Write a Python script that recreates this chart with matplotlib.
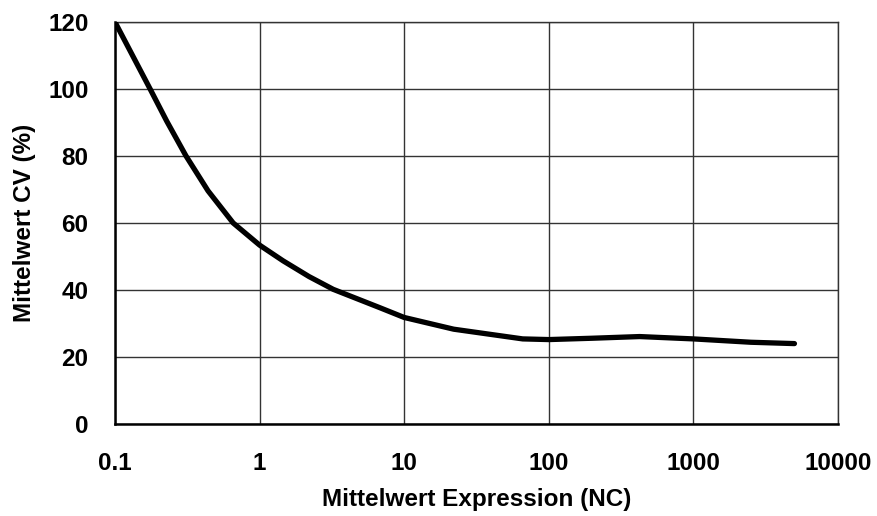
import numpy as np
import matplotlib
matplotlib.use("Agg")
import matplotlib.pyplot as plt
from matplotlib.ticker import FixedLocator, FixedFormatter, NullLocator

plt.rcParams['font.family'] = ['Liberation Sans', 'DejaVu Sans']
plt.rcParams['font.weight'] = 'bold'

# Werte
expression = [0.1, 0.175, 0.228, 0.31, 0.44, 0.657, 1, 1.455, 2.2, 3.23, 6.8, 10,
              22, 66, 100, 200, 425, 1000, 2500, 5000]
cv = [120, 100, 90.4, 80, 69.6, 60, 53.4, 48.7, 44, 40.2, 34.7, 31.8,
      28.3, 25.4, 25.2, 25.6, 26.1, 25.4, 24.4, 24.0]

x_ticks = [0.1, 1, 10, 100, 1000, 10000]
x_tick_labels = ["0.1", "1", "10", "100", "1000", "10000"]
y_ticks = [0, 20, 40, 60, 80, 100, 120]

fig = plt.figure(figsize=(8.77, 5.16), dpi=100)
ax = fig.add_axes([0.1311, 0.1783, 0.8244, 0.7791])

ax.plot(expression, cv, color="black", lw=3.8, solid_capstyle="round", solid_joinstyle="round", zorder=3)

ax.set_xscale("log")
ax.set_xlim(0.1, 10000)
ax.set_ylim(0, 120)
ax.xaxis.set_major_locator(FixedLocator(x_ticks))
ax.xaxis.set_major_formatter(FixedFormatter(x_tick_labels))
ax.xaxis.set_minor_locator(NullLocator())
ax.set_yticks(y_ticks)

ax.grid(True, color="#333333", lw=1.0)
ax.set_axisbelow(True)
for side in ["top", "right"]:
    ax.spines[side].set_color("#333333")
    ax.spines[side].set_linewidth(1.0)
for side in ["left", "bottom"]:
    ax.spines[side].set_color("black")
    ax.spines[side].set_linewidth(1.8)

ax.tick_params(axis="both", length=0, labelsize=17.5)
ax.tick_params(axis="x", pad=20)
ax.tick_params(axis="y", pad=19)

ax.set_xlabel("Mittelwert Expression (NC)", fontsize=17.5, fontweight="bold", va="center")
ax.set_ylabel("Mittelwert CV (%)", fontsize=17.5, fontweight="bold", va="center")
ax.xaxis.set_label_coords(0.5, -0.1866)
ax.yaxis.set_label_coords(-0.1256, 0.5)

fig.savefig("out.png", dpi=100)
